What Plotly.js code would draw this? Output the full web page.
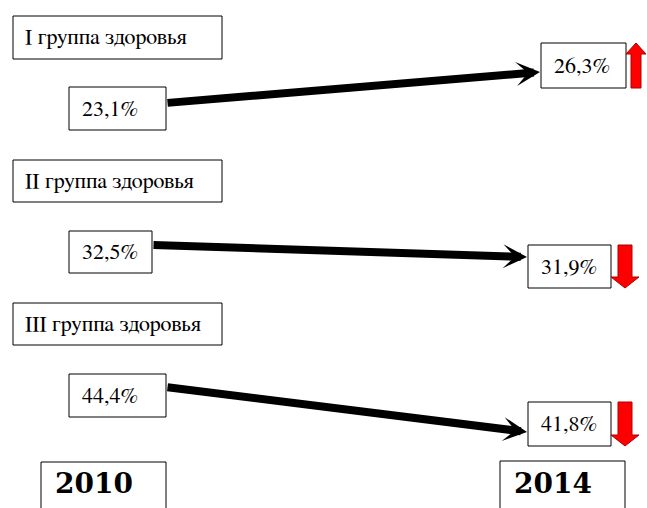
<!DOCTYPE html>
<html>
<head>
<meta charset="utf-8">
<script src="https://cdn.plot.ly/plotly-3.0.1.min.js"></script>
<style>
html,body{margin:0;padding:0;background:#fff;}
#chart{width:647px;height:508px;}
</style>
</head>
<body>
<div id="chart"></div>
<script>
// ---- data ----
var groupLabels = ['I группа здоровья', 'II группа здоровья', 'III группа здоровья'];
var share2010 = [23.1, 32.5, 44.4];
var share2014 = [26.3, 31.9, 41.8];
var years = ['2010', '2014'];

// ---- diagram layout (pixel coordinates on a 647x508 canvas) ----
var rowsLayout = [
  {label: [13, 16, 222, 59],  b0: [69, 87, 166, 130],  b1: [541, 43, 626, 88],  from: [166, 103], to: [540, 72],  trend: [626, 43, 646, 88]},
  {label: [13, 160, 222, 202], b0: [69, 231, 152, 273], b1: [528, 245, 611, 288], from: [152, 245], to: [527, 257], trend: [611, 245, 639, 288]},
  {label: [13, 303, 222, 345], b0: [69, 374, 166, 417], b1: [528, 402, 611, 446], from: [166, 387], to: [527, 432], trend: [611, 402, 639, 446]}
];
var yearBoxes = [[41, 462, 166, 530], [500, 461, 625, 530]];

function fmt(v) { return v.toFixed(1).replace('.', ',') + '%'; }

var shapes = [];
var annotations = [];
var serif = 'FreeSerif';

function box(r) {
  shapes.push({type: 'rect', xref: 'x', yref: 'y', x0: r[0], y0: r[1], x1: r[2], y1: r[3],
    line: {color: '#000', width: 1}, fillcolor: 'rgba(255,255,255,0)', layer: 'below'});
}
function label(r, text, pad, size, fam, yc) {
  annotations.push({xref: 'x', yref: 'y', x: r[0] + pad, y: (yc !== undefined ? yc : (r[1] + r[3]) / 2),
    xanchor: 'left', yanchor: 'middle', text: text, showarrow: false,
    font: {family: fam, size: size, color: '#000'}});
}
function trendArrow(r, up) {
  var x0 = r[0], y0 = r[1], x1 = r[2], y1 = r[3];
  var cx = (x0 + x1) / 2, sw = (x1 - x0) * 0.25, h = 11;
  var p;
  if (up) {
    p = 'M' + (cx - sw) + ',' + y1 + ' L' + (cx - sw) + ',' + (y0 + h) + ' L' + x0 + ',' + (y0 + h) +
        ' L' + cx + ',' + y0 + ' L' + x1 + ',' + (y0 + h) + ' L' + (cx + sw) + ',' + (y0 + h) +
        ' L' + (cx + sw) + ',' + y1 + ' Z';
  } else {
    p = 'M' + (cx - sw) + ',' + y0 + ' L' + (cx - sw) + ',' + (y1 - h) + ' L' + x0 + ',' + (y1 - h) +
        ' L' + cx + ',' + y1 + ' L' + x1 + ',' + (y1 - h) + ' L' + (cx + sw) + ',' + (y1 - h) +
        ' L' + (cx + sw) + ',' + y0 + ' Z';
  }
  shapes.push({type: 'path', xref: 'x', yref: 'y', path: p, fillcolor: '#ff0000',
    line: {color: '#b00000', width: 1}});
}

for (var i = 0; i < groupLabels.length; i++) {
  var R = rowsLayout[i];
  box(R.label); box(R.b0); box(R.b1);
  label(R.label, groupLabels[i], 10, 22, serif);
  label(R.b0, fmt(share2010[i]), 11, 22, serif);
  label(R.b1, fmt(share2014[i]), 11, 22, serif);
  annotations.push({xref: 'x', yref: 'y', axref: 'x', ayref: 'y',
    x: R.to[0], y: R.to[1], ax: R.from[0], ay: R.from[1], text: '',
    showarrow: true, arrowhead: 3, arrowsize: 0.5, arrowwidth: 8, arrowcolor: '#000', standoff: 0});
  trendArrow(R.trend, share2014[i] > share2010[i]);
}
for (var j = 0; j < years.length; j++) {
  box(yearBoxes[j]);
  label(yearBoxes[j], '<b>' + years[j] + '</b>', 12, 28, 'DejaVu Serif', 483);
}

var layout = {
  width: 647, height: 508,
  margin: {l: 0, r: 0, t: 0, b: 0},
  paper_bgcolor: '#fff', plot_bgcolor: '#fff',
  xaxis: {range: [0, 647], visible: false, fixedrange: true},
  yaxis: {range: [508, 0], visible: false, fixedrange: true},
  shapes: shapes,
  annotations: annotations,
  showlegend: false
};
Plotly.newPlot('chart', [{x: [], y: [], type: 'scatter', mode: 'markers', hoverinfo: 'skip'}], layout, {staticPlot: true, displayModeBar: false});
</script>
</body>
</html>
